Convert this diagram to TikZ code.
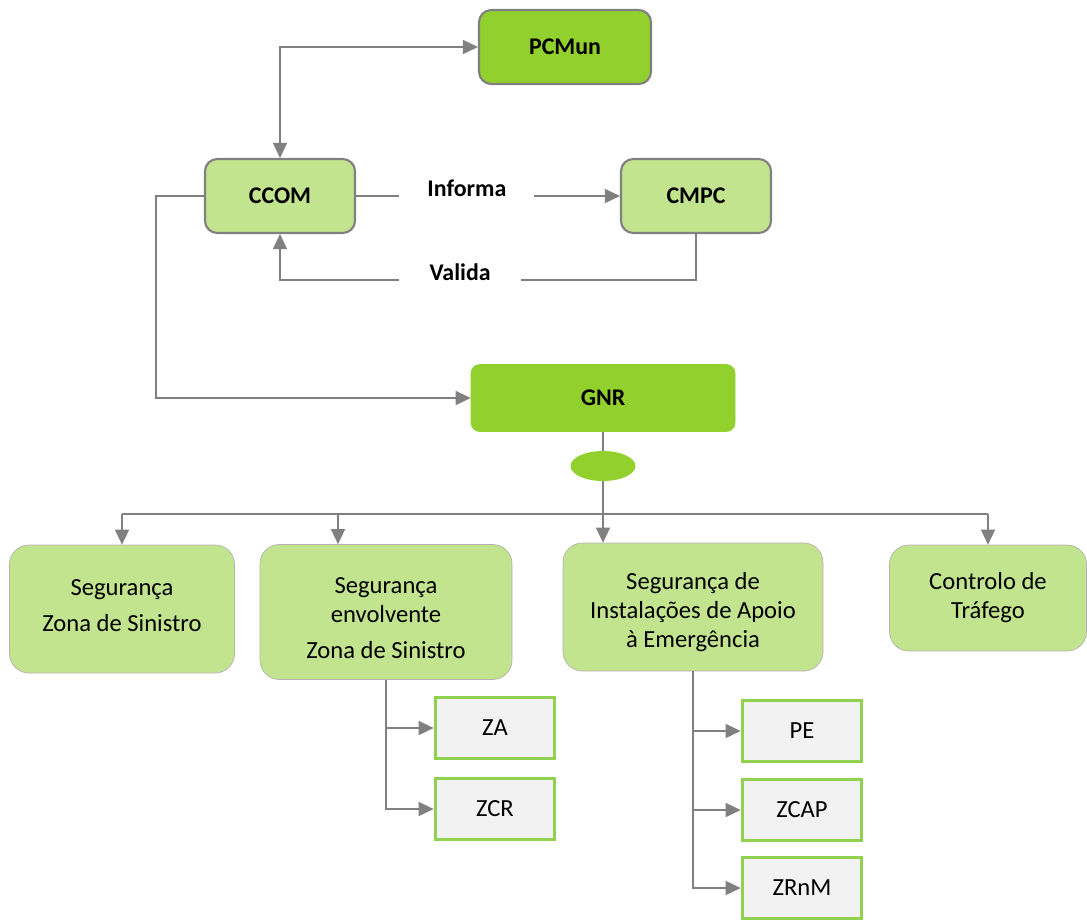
\documentclass[tikz,border=0pt]{standalone}
\usepackage{fontspec}
\setmainfont{Carlito}
\usepackage{tikz}
\usetikzlibrary{shapes.geometric,arrows.meta,positioning,calc}
\definecolor{gdark}{HTML}{92D12D}
\definecolor{glight}{HTML}{C3E48E}
\definecolor{gline}{HTML}{808080}
\definecolor{gbox}{HTML}{F2F2F2}
\definecolor{gframe}{HTML}{92D050}

\begin{document}
\begin{tikzpicture}[
    x=0.2mm, y=-0.2mm,
    font=\fontsize{14}{16.5}\selectfont,
    topbox/.style={rectangle, draw=gline, line width=1.2pt, rounded corners=7pt,
                 minimum height=14.8mm, align=center, font=\fontsize{13.6}{16}\selectfont\bfseries},
    unitbox/.style={rectangle, draw=black!30, fill=glight, rounded corners=11pt,
                 align=center},
    unittext/.style={align=center, text=black, font=\fontsize{14}{16.5}\selectfont},
    subbox/.style={rectangle, draw=gframe, fill=gbox, line width=1.8pt,
                 minimum width=23.9mm, minimum height=12.1mm},
    lbl/.style={fill=white, text=black, font=\fontsize{13.6}{16}\selectfont\bfseries,
                 minimum width=27mm, minimum height=8mm, yshift=1.6mm},
    line/.style={draw=gline, line width=0.85pt},
    arr/.style={line, -{Triangle[length=3mm, width=2.8mm]}, gline}
]
    \useasboundingbox (0,0) rectangle (1087,920);

    % top level
    \node[topbox, fill=gdark, minimum width=34.4mm] (pcmun) at (565,47) {PCMun};
    \node[topbox, fill=glight, minimum width=30mm] (ccom) at (280,196) {CCOM};
    \node[topbox, fill=glight, minimum width=30mm] (cmpc) at (696,196) {CMPC};
    \node[topbox, draw=gdark, fill=gdark, line width=0.4pt, rounded corners=5pt,
          minimum width=52.8mm, minimum height=13.4mm] (gnr) at (603,398) {GNR};
    \node[ellipse, fill=gdark, minimum width=13mm, minimum height=6mm] (hub) at (603,466) {};

    % units
    \node[unitbox, minimum width=45mm, minimum height=25.6mm,
          label={[unittext, yshift=0.6mm]center:{Segurança\\[4pt]Zona de Sinistro}}] (b1) at (122,609) {};
    \node[unitbox, minimum width=50.4mm, minimum height=27mm,
          label={[unittext, yshift=-1.2mm]center:{Segurança\\envolvente\\[4pt]Zona de Sinistro}}] (b2) at (386,612) {};
    \node[unitbox, minimum width=52mm, minimum height=25.6mm,
          label={[unittext, yshift=-1.1mm]center:{Segurança de\\Instalações de Apoio\\à Emergência}}] (b3) at (693,607) {};
    \node[unitbox, minimum width=39.4mm, minimum height=21.2mm] (b4) at (988,598)
        {Controlo de\\Tráfego};

    % zones
    \node[subbox] (za) at (495,728) {ZA};
    \node[subbox] (zcr) at (495,809) {ZCR};
    \node[subbox] (pe) at (802,731) {PE};
    \node[subbox] (zcap) at (802,810) {ZCAP};
    \node[subbox] (zrnm) at (802,888) {ZRnM};

    \coordinate (bus) at (603,514);

    % connectors
    \draw[arr, {Triangle[length=3mm, width=2.8mm]}-{Triangle[length=3mm, width=2.8mm]}]
        (ccom.north) |- (pcmun.west);
    \draw[arr] (ccom.east) -- node[lbl, pos=0.42] {Informa} (cmpc.west);
    \draw[arr] (cmpc.south) -- (cmpc.south |- 0,280)
        -- node[lbl, pos=0.567, minimum width=24.5mm] {Valida} (ccom.south |- 0,280) -- (ccom.south);
    \draw[arr] (ccom.west) -- ++(-48,0) |- (gnr.west);

    \draw[line] (gnr.south) -- (hub.north);
    \draw[line] (hub.south) -- (bus);
    \draw[line] (b1.north |- bus) -- (b4.north |- bus);
    \draw[arr] (b1.north |- bus) -- (b1.north);
    \draw[arr] ([xshift=-9.6mm]b2.north |- bus) -- ([xshift=-9.6mm]b2.north);
    \draw[arr] (bus) -- (bus |- b3.north);
    \draw[arr] (b4.north |- bus) -- (b4.north);

    \draw[arr] (b2.south) |- (za.west);
    \draw[arr] (b2.south) |- (zcr.west);
    \draw[arr] (b3.south) |- (pe.west);
    \draw[arr] (b3.south) |- (zcap.west);
    \draw[arr] (b3.south) |- (zrnm.west);
\end{tikzpicture}
\end{document}
